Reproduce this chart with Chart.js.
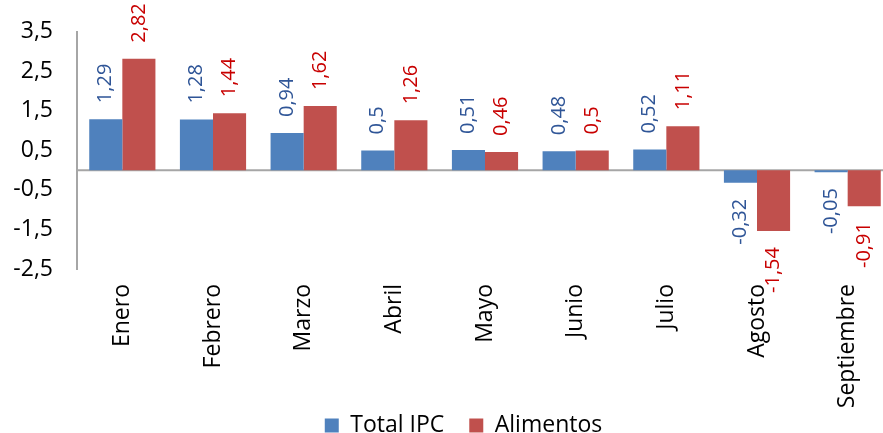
<!DOCTYPE html>
<html>
<head>
<meta charset="utf-8">
<script src="https://cdn.jsdelivr.net/npm/chart.js@4/dist/chart.umd.min.js"></script>
<style>
  html, body { margin: 0; padding: 0; background: #fff; }
  #wrap { width: 883px; height: 433px; }
</style>
</head>
<body>
<div id="wrap"><canvas id="grafica"></canvas></div>
<script>
// datos
const meses = ["Enero", "Febrero", "Marzo", "Abril", "Mayo", "Junio", "Julio", "Agosto", "Septiembre"];
const totalIPC = [1.29, 1.28, 0.94, 0.5, 0.51, 0.48, 0.52, -0.32, -0.05];
const alimentos = [2.82, 1.44, 1.62, 1.26, 0.46, 0.5, 1.11, -1.54, -0.91];
const ejeMin = -2.5;
const ejeMax = 3.5;

const FUENTE = "'Open Sans', 'DejaVu Sans', sans-serif";
const coloresTexto = ["#2F5597", "#C80000"];

// línea del cero
const lineaCero = {
  id: "lineaCero",
  beforeDatasetsDraw(chart) {
    const { ctx, chartArea, scales } = chart;
    const y = scales.y.getPixelForValue(0);
    ctx.save();
    ctx.strokeStyle = "#A6A6A6";
    ctx.lineWidth = 2;
    ctx.beginPath();
    ctx.moveTo(chartArea.left, y);
    ctx.lineTo(chartArea.right, y);
    ctx.stroke();
    ctx.restore();
  }
};

// etiquetas giradas sobre cada barra
const etiquetas = {
  id: "etiquetas",
  afterDatasetsDraw(chart) {
    const ctx = chart.ctx;
    chart.data.datasets.forEach((ds, i) => {
      const meta = chart.getDatasetMeta(i);
      meta.data.forEach((bar, j) => {
        const v = ds.data[j];
        const txt = String(v).replace(".", ",");
        ctx.save();
        ctx.font = "20px " + FUENTE;
        ctx.fillStyle = coloresTexto[i];
        ctx.textBaseline = "middle";
        ctx.translate(bar.x, bar.y);
        ctx.rotate(-Math.PI / 2);
        if (v >= 0) {
          ctx.textAlign = "left";
          ctx.fillText(txt, 16, 0);
        } else {
          ctx.textAlign = "right";
          ctx.fillText(txt, -16, 0);
        }
        ctx.restore();
      });
    });
  }
};

// ajustes de layout: el original está recortado a la derecha y
// la leyenda se solapa con la zona de etiquetas del eje x
const ajusteLayout = {
  id: "ajusteLayout",
  afterLayout(chart) {
    const l = chart.legend;
    l.top -= 25;
    l.left += 22; l.right += 22;

    const x = chart.scales.x;
    x.right += 10; x.width += 10;
    x.configure();
    chart.chartArea.right += 10;
    chart.chartArea.width += 10;

    const y = chart.scales.y;
    y.top -= 6; y.height += 6;
    y.configure();
    chart.chartArea.top -= 6;
    chart.chartArea.height += 6;
  }
};

new Chart(document.getElementById("grafica").getContext("2d"), {
  type: "bar",
  data: {
    labels: meses,
    datasets: [
      { label: "Total IPC", data: totalIPC, backgroundColor: "#4F81BD" },
      { label: "Alimentos", data: alimentos, backgroundColor: "#C0504D" }
    ]
  },
  options: {
    responsive: true,
    maintainAspectRatio: false,
    animation: false,
    layout: { padding: { top: 10, right: 0, left: 0, bottom: 0 } },
    categoryPercentage: 0.73,
    barPercentage: 1,
    plugins: {
      legend: {
        position: "bottom",
        maxHeight: 19,
        labels: {
          boxWidth: 14,
          boxHeight: 14,
          padding: 25,
          color: "#000",
          font: { family: FUENTE, size: 23 }
        }
      },
      tooltip: { enabled: false }
    },
    scales: {
      x: {
        grid: { display: false, drawTicks: false },
        border: { display: false },
        ticks: {
          minRotation: 90,
          maxRotation: 90,
          padding: 15,
          color: "#000",
          font: { family: FUENTE, size: 23 }
        },
        afterFit(scale) { scale.height = 145; }
      },
      y: {
        min: ejeMin,
        max: ejeMax,
        grid: { display: false, drawTicks: false },
        border: { display: true, color: "#A6A6A6", width: 2 },
        ticks: {
          stepSize: 1,
          padding: 24,
          color: "#000",
          font: { family: FUENTE, size: 23 },
          callback: v => String(v).replace(".", ",")
        },
        afterFit(scale) { scale.width = 77; }
      }
    }
  },
  plugins: [lineaCero, etiquetas, ajusteLayout]
});
</script>
</body>
</html>
